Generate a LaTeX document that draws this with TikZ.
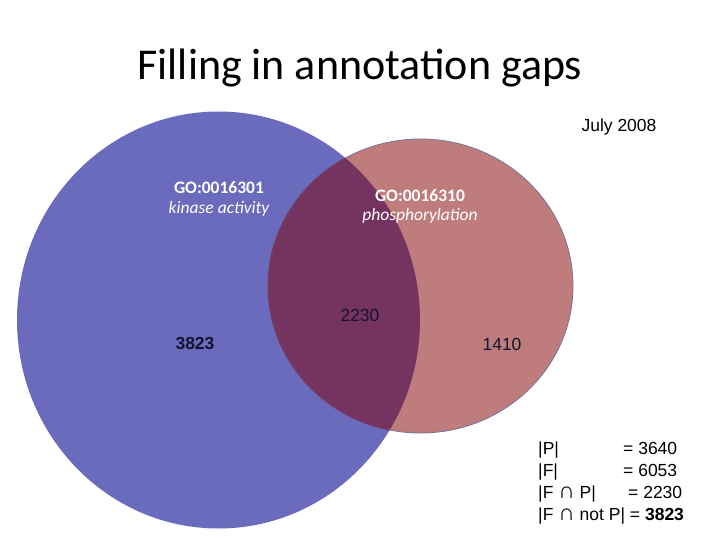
\documentclass[tikz,border=0pt]{standalone}
\usepackage{fontspec}
\setmainfont{Liberation Sans}
\newfontfamily\carlitofont{Carlito}
\definecolor{fblue}{RGB}{106,107,189}
\definecolor{pred}{RGB}{191,124,124}
\definecolor{inter}{RGB}{117,52,95}
\definecolor{redge}{RGB}{120,115,150}
\definecolor{numc}{RGB}{20,20,50}
\newcommand{\mycapsym}{{\fontsize{23}{19}\selectfont ∩}}
\begin{document}
\begin{tikzpicture}[x=1pt,y=-1pt,
  golab/.style={text=white,font=\carlitofont\fontsize{17.5}{20}\selectfont\bfseries,anchor=center,inner sep=0pt},
  goit/.style={text=white,font=\carlitofont\fontsize{17.5}{20}\selectfont\itshape,anchor=center,inner sep=0pt},
  num/.style={text=numc,font=\fontsize{17.5}{20}\selectfont,anchor=center,inner sep=0pt},
  stat/.style={text=black,font=\fontsize{17.5}{20}\selectfont,anchor=base west,inner sep=0pt}]
\useasboundingbox (0,0) rectangle (720,540);
\fill[white] (0,0) rectangle (720,540);
% circles
\fill[fblue] (218.5,320) ellipse [x radius=201.5, y radius=208.5];
\fill[pred] (420.5,286) ellipse [x radius=152.5, y radius=147];
\begin{scope}
\clip (218.5,320) ellipse [x radius=201.5, y radius=208.5];
\fill[inter] (420.5,286) ellipse [x radius=152.5, y radius=147];
\end{scope}
\draw[redge,line width=0.8pt] (420.5,286) ellipse [x radius=152.5, y radius=147];
\begin{scope}
\clip (218.5,320) ellipse [x radius=201.5, y radius=208.5];
\draw[inter,line width=1pt] (420.5,286) ellipse [x radius=152.5, y radius=147];
\end{scope}
% title
\node[font=\carlitofont\fontsize{44}{50}\selectfont,anchor=center,inner sep=0pt] (title) at (360,68) {Filling in annotation gaps};
\node[font=\fontsize{17.5}{20}\selectfont,anchor=center,inner sep=0pt] (date) at (619,127) {July 2008};
% GO labels
\node[golab] (go1) at (219,188) {GO:0016301};
\node[goit] (go1t) at (219,209) {kinase activity};
\node[golab] (go2) at (420,196) {GO:0016310};
\node[goit] (go2t) at (420,216) {phosphorylation};
% numbers
\node[num,font=\fontsize{17.5}{20}\selectfont\bfseries] (n1) at (195,343) {3823};
\node[num] (n2) at (360,315) {2230};
\node[num] (n3) at (502,344) {1410};
% stats
\node[stat] (s1a) at (538,454) {|P|};
\node[stat] (s1b) at (623,454) {= 3640};
\node[stat] (s2a) at (538,476) {|F|};
\node[stat] (s2b) at (623,476) {= 6053};
\node[stat] (s3a) at (538,498) {|F \mycapsym{} P|};
\node[stat] (s3b) at (628,498) {= 2230};
\node[stat] (s4a) at (538,520) {|F \mycapsym{} not P| = \textbf{3823}};
\end{tikzpicture}
\end{document}
